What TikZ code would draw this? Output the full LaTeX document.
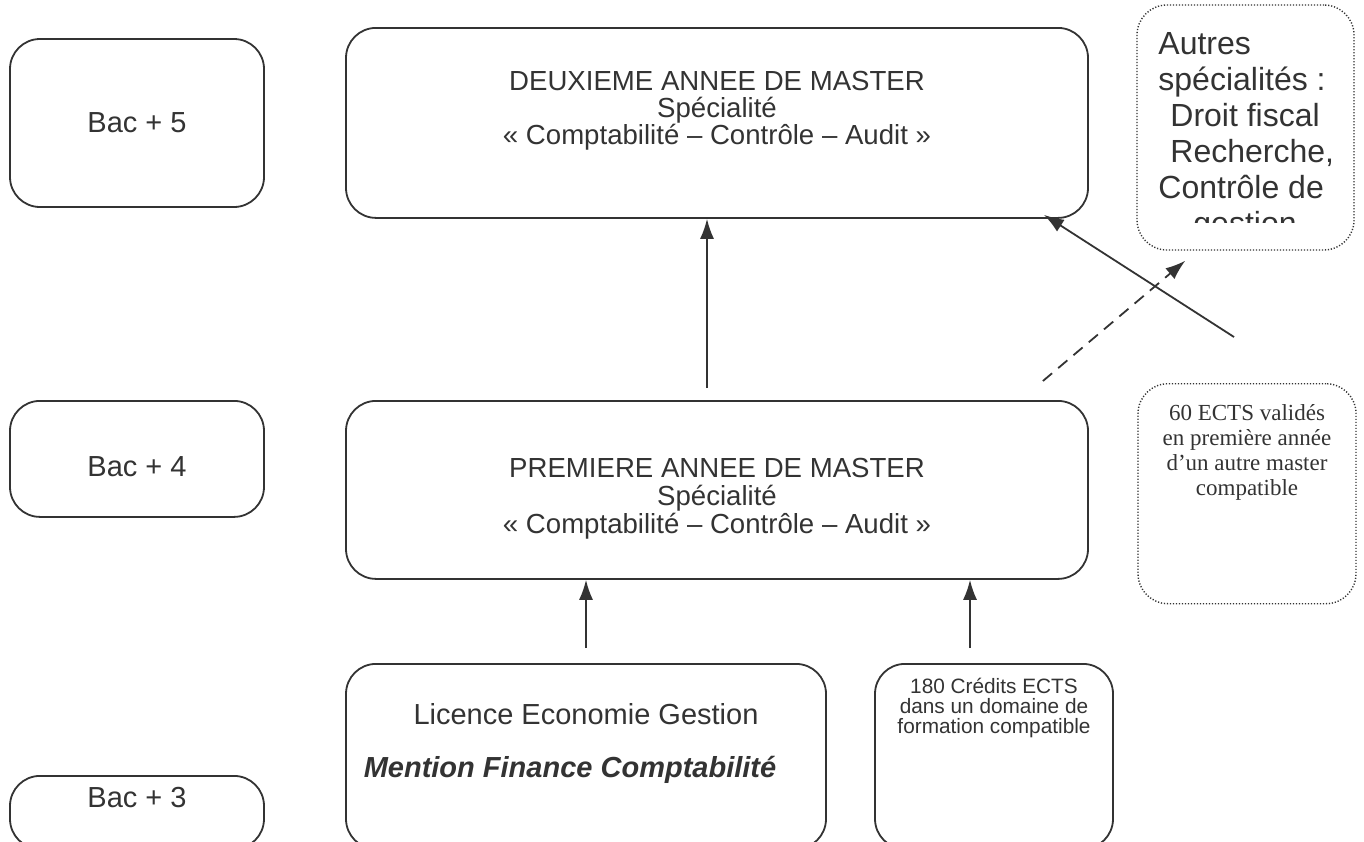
\documentclass[tikz,border=0pt]{standalone}
\usepackage{fontspec}
\setmainfont{Liberation Sans}
\newfontfamily\timesfont{Liberation Serif}
\usetikzlibrary{arrows.meta,positioning}
\definecolor{inkgray}{HTML}{333333}

\tikzset{
  levelbox/.style={draw=inkgray, line width=0.9pt, rounded corners=15pt, text=inkgray, inner sep=0pt, align=center},
  dotbox/.style={levelbox, dash pattern=on 0.6pt off 0.9pt, line width=0.7pt},
  arrow/.style={-{Latex[length=10pt,width=7pt]}, draw=inkgray, line width=0.9pt},
}

\begin{document}
\begin{tikzpicture}[x=0.5pt, y=-0.5pt]
    \clip (0,0) rectangle (1364,841);

    % niveaux
    \node[levelbox, minimum width=127pt, minimum height=84pt, font=\fontsize{14.5}{17}\selectfont] (bac5) at (137,123) {Bac + 5};
    \node[levelbox, anchor=north, minimum width=127pt, text height=38pt, text depth=20pt, font=\fontsize{14.5}{17}\selectfont] (bac4) at (137,400) {Bac + 4};
    \node[levelbox, anchor=north, minimum width=127pt, text height=16pt, text depth=20.5pt, font=\fontsize{14.5}{17}\selectfont] (bac3) at (137,775) {Bac + 3};

    % formations (text height = jusqu'a la derniere ligne)
    \node[levelbox, anchor=north, minimum width=371pt, text height=58.5pt, text depth=36.5pt, font=\fontsize{13.8}{13.5}\selectfont] (m2) at (717,27)
        {DEUXIEME ANNEE DE MASTER\\Spécialité\\« Comptabilité – Contrôle – Audit »};
    \node[levelbox, anchor=north, minimum width=371pt, text height=66.5pt, text depth=22.5pt, font=\fontsize{13.8}{14}\selectfont] (m1) at (717,400)
        {PREMIERE ANNEE DE MASTER\\Spécialité\\« Comptabilité – Contrôle – Audit »};
    \node[levelbox, anchor=north, minimum width=240pt, text height=57pt, text depth=35.5pt, font=\fontsize{14.5}{26.5}\selectfont] (licence) at (586,663)
        {Licence Economie Gestion\\\textbf{\textit{Mention Finance Comptabilité}}\hspace*{16pt}};
    \node[levelbox, anchor=north, minimum width=119pt, text height=35pt, text depth=57.5pt, font=\fontsize{10.4}{10}\selectfont] (ects180) at (994,663)
        {180 Crédits ECTS\\dans un domaine de\\formation compatible};

    % autres voies
    \node[dotbox, anchor=north, minimum width=109pt, text height=56pt, text depth=54pt, font=\timesfont\fontsize{11.5}{12.5}\selectfont] (ects60) at (1247,383)
        {60 ECTS validés\\en première année\\d’un autre master\\compatible};
    \node[dotbox, minimum width=108.5pt, minimum height=122.5pt] (autres) at (1245.5,127.5) {};
    \begin{scope}
        \clip (1137,5) rectangle (1354,222);
        \node[anchor=base west, align=left, inner sep=0pt, text=inkgray, font=\fontsize{16}{18}\selectfont] (autrestxt) at (1158,234)
            {Autres\\spécialités :\\\hspace*{6pt}Droit fiscal\\\hspace*{6pt}Recherche,\\Contrôle de\\\hspace*{17.5pt}gestion};
    \end{scope}

    % passages
    \coordinate (from60) at (1234,337);
    \draw[arrow] ([xshift=-5pt,yshift=6pt]m1.north) -- ([xshift=-5pt]m2.south);
    \draw[arrow] ([yshift=7.5pt]licence.north) -- (licence.north |- m1.south);
    \draw[arrow] ([xshift=-12pt,yshift=7.5pt]ects180.north) -- ([xshift=-12pt]ects180.north |- m1.south);
    \draw[arrow] (from60) -- ([xshift=-22.5pt,yshift=2pt]m2.south east);
    \draw[arrow, dash pattern=on 6pt off 4pt] ([xshift=-23pt,yshift=9.5pt]m1.north east) -- ([xshift=24.5pt,yshift=-5pt]autres.south west);
\end{tikzpicture}
\end{document}
